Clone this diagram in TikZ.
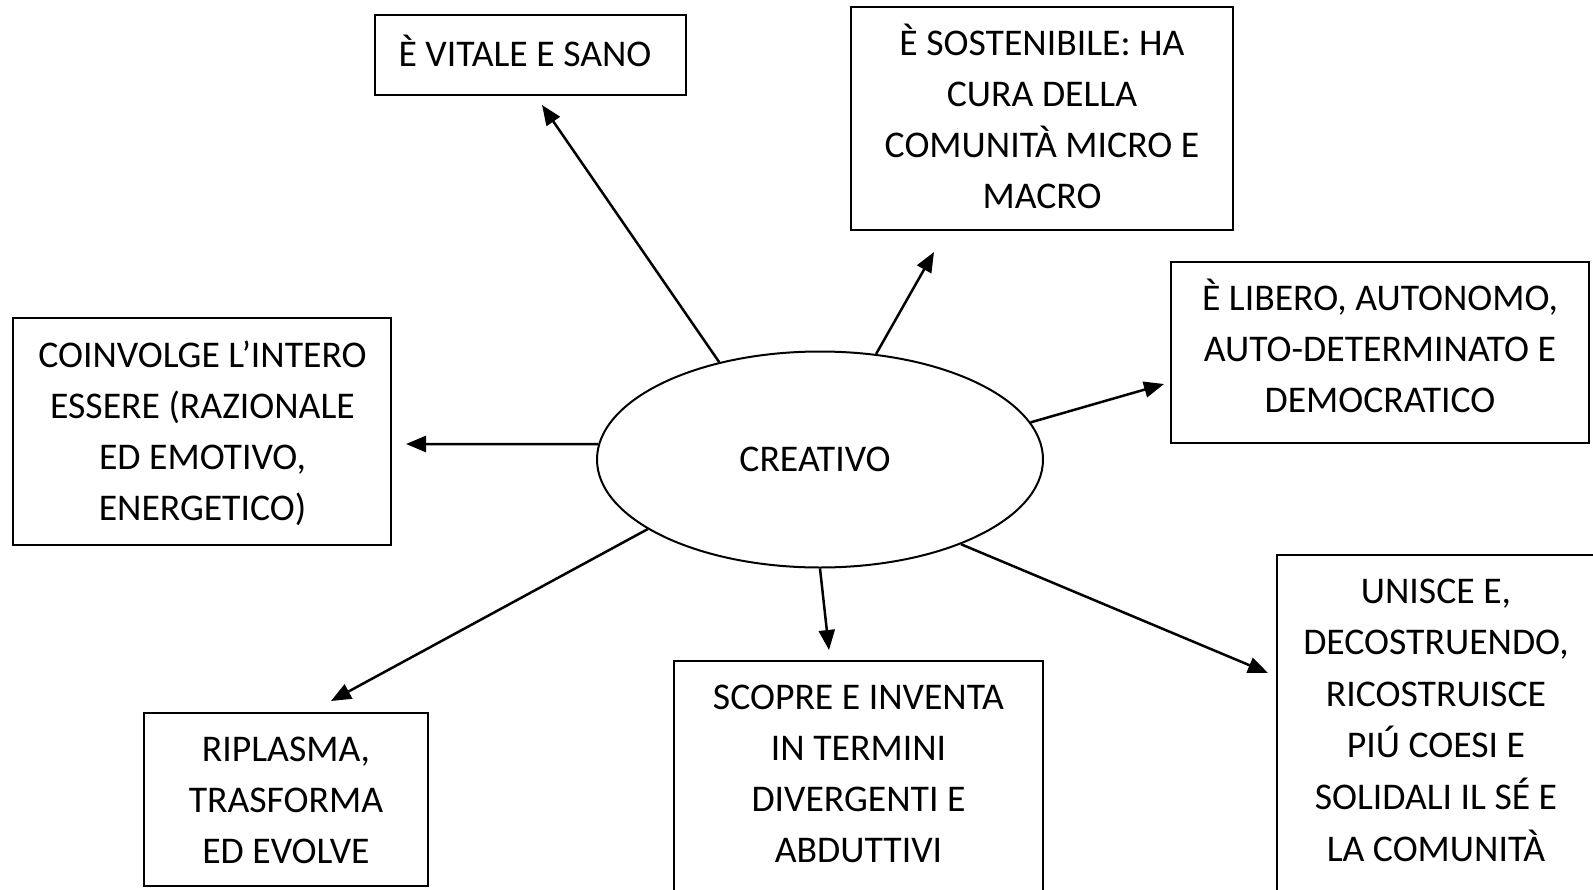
\documentclass[tikz,border=0pt]{standalone}
\usepackage{fontspec}
\setmainfont{Carlito}
\usetikzlibrary{shapes.geometric,arrows.meta}
\tikzset{
  txt/.style={align=center, font=\fontsize{37.7}{51}\selectfont, inner sep=0pt},
  box/.style={draw, line width=2pt, inner sep=0pt},
  arr/.style={line width=2.5pt, -{Triangle[length=20pt,width=16pt]}}
}
\begin{document}
\begin{tikzpicture}[x=1pt,y=-1pt]
\useasboundingbox (0,0) rectangle (1593,889);
\clip (0,0) rectangle (1593,889);
\fill[white] (0,0) rectangle (1593,889);

\node[ellipse, draw, line width=2pt, minimum width=446pt, minimum height=216pt, txt] (c) at (820,459.5) {CREATIVO\hspace*{10pt}};

\node[box, minimum width=311pt, minimum height=80pt] (b1) at (530.5,55) {};
\node[txt] (t1) at (525,51) {È VITALE E SANO};
\node[box, minimum width=382pt, minimum height=223pt] (b2) at (1042,118.5) {};
\node[txt] (t2) at (1042,116.5) {È SOSTENIBILE: HA\\CURA DELLA\\COMUNITÀ MICRO E\\MACRO};
\node[box, minimum width=418pt, minimum height=181pt] (b3) at (1380,352.5) {};
\node[txt] (t3) at (1380,346) {È LIBERO, AUTONOMO,\\AUTO-DETERMINATO E\\DEMOCRATICO};
\node[box, minimum width=378pt, minimum height=227pt] (b4) at (201.5,431.5) {};
\node[txt] (t4) at (202.5,433.5) {COINVOLGE L’INTERO\\ESSERE (RAZIONALE\\ED EMOTIVO,\\ENERGETICO)};
\node[box, minimum width=284pt, minimum height=173pt] (b5) at (286,799.5) {};
\node[txt] (t5) at (286,800.5) {RIPLASMA,\\TRASFORMA\\ED EVOLVE};
\node[box, minimum width=369pt, minimum height=239pt] (b6) at (858.5,780.5) {};
\node[txt] (t6) at (858.5,774) {SCOPRE E INVENTA\\IN TERMINI\\DIVERGENTI E\\ABDUTTIVI};
\node[box, minimum width=319pt, minimum height=345pt] (b7) at (1436.5,727.5) {};
\node[txt, font=\fontsize{37.7}{51.6}\selectfont] (t7) at (1436,720) {UNISCE E,\\DECOSTRUENDO,\\RICOSTRUISCE\\PIÚ COESI E\\SOLIDALI IL SÉ E\\LA COMUNITÀ};

\coordinate (ea) at (542,105);
\coordinate (eb) at (934,252);
\coordinate (ec) at (1164,384);
\coordinate (ed) at (406,444);
\coordinate (ee) at (331,701);
\coordinate (ef) at (829,650);
\coordinate (eg) at (1268,673);

\draw[arr] (c.136.4) -- (ea);
\draw[arr] (c.62.6) -- (eb);
\draw[arr] (c.10.4) -- (ec);
\draw[arr] (c.176.1) -- (ed);
\draw[arr] (c.202.5) -- (ee);
\draw[arr] (c.270) -- (ef);
\draw[arr] (c.329.3) -- (eg);
\end{tikzpicture}
\end{document}
